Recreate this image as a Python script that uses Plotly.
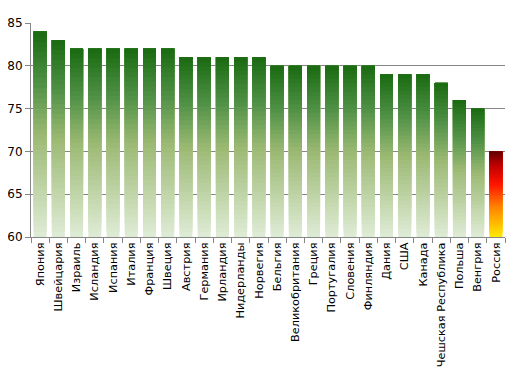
import plotly.graph_objects as go
import numpy as np

countries = ["Япония", "Швейцария", "Израиль", "Исландия", "Испания", "Италия", "Франция",
             "Швеция", "Австрия", "Германия", "Ирландия", "Нидерланды", "Норвегия", "Бельгия",
             "Великобритания", "Греция", "Португалия", "Словения", "Финляндия", "Дания", "США",
             "Канада", "Чешская Республика", "Польша", "Венгрия", "Россия"]
values = [84, 83, 82, 82, 82, 82, 82, 82, 81, 81, 81, 81, 81, 80, 80, 80, 80, 80, 80,
          79, 79, 79, 78, 76, 75, 70]
highlight = ["Россия"]
y_min, y_max = 60, 85

green_stops = [(0.0, (222, 235, 212)), (0.5, (155, 185, 115)), (0.75, (80, 145, 70)), (1.0, (28, 108, 20))]
red_stops = [(0.0, (255, 230, 0)), (0.35, (255, 130, 0)), (0.62, (255, 20, 0)), (0.85, (190, 0, 0)), (1.0, (105, 0, 0))]


def interp(stops, t):
    for (t0, c0), (t1, c1) in zip(stops[:-1], stops[1:]):
        if t <= t1:
            f = (t - t0) / (t1 - t0) if t1 > t0 else 0
            c = [round(a + (b - a) * f) for a, b in zip(c0, c1)]
            return "rgb(%d,%d,%d)" % tuple(c)
    return "rgb(%d,%d,%d)" % stops[-1][1]


N = 40
fig = go.Figure()
vals = np.array(values, dtype=float)
h = vals - y_min
for k in range(N):
    t = k / (N - 1)
    base = y_min + h * k / N
    colors = [interp(red_stops if c in highlight else green_stops, t) for c in countries]
    fig.add_trace(go.Bar(
        x=countries, y=vals - base, base=base,
        marker=dict(color=colors, line=dict(width=0)),
        showlegend=False, hoverinfo="skip"))

fig.update_layout(
    barmode="overlay", bargap=0.29,
    width=507, height=370,
    margin=dict(l=23, r=10, t=15, b=141),
    paper_bgcolor="white", plot_bgcolor="white",
    font=dict(family="DejaVu Sans", size=11, color="black"),
)
fig.update_xaxes(
    type="category", tickangle=-90, ticks="outside", tickson="boundaries", ticklen=5,
    tickcolor="#868686", showline=True, linecolor="#868686", linewidth=1,
    showgrid=False, automargin=False, tickfont=dict(size=11.3, family="DejaVu Sans"))
fig.update_yaxes(
    range=[y_min, y_max], dtick=5, ticks="outside", ticklen=5, tickcolor="#868686",
    showline=True, linecolor="#868686", linewidth=1,
    showgrid=True, gridcolor="#868686", gridwidth=1, automargin=False,
    tickfont=dict(size=12, family="DejaVu Sans"))

fig.write_html("out.html")
